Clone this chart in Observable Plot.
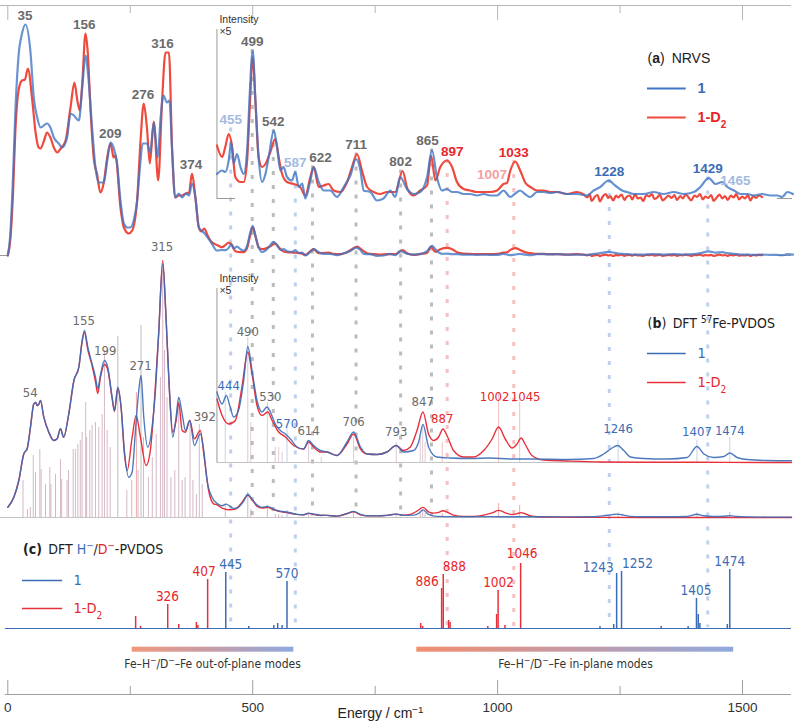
<!DOCTYPE html>
<html>
<head>
<meta charset="utf-8">
<script src="https://cdn.jsdelivr.net/npm/d3@7"></script>
<script src="https://cdn.jsdelivr.net/npm/@observablehq/plot@0.6"></script>
<style>
html,body{margin:0;padding:0;background:#fff;}
#chart{width:798px;height:726px;overflow:hidden;}
</style>
</head>
<body>
<div id="chart"></div>
<script>
// ---------------- DATA (energy cm-1, intensity in arbitrary units) ----------------
// (a) NRVS, complex 1
const nrvs1 = [[0,0],[5,20],[10,70],[16,150],[22,200],[29,222],[36,231],[46,205],[53,158],[60,138],[67,128],[80,132],[87,128],[94,118],[104,112],[111,108],[121,118],[128,142],[135,140],[145,135],[152,168],[158.6,200],[165,175],[172,128],[179,88],[186,73],[196,73],[203,95],[209.6,113],[216,108],[223,92],[230,55],[237,32],[244,28],[250,28],[257,35],[264,55],[271,95],[275,112],[284,112],[291,103],[298,133],[306,98],[312,138],[318,160],[325,153],[330,155],[335.5,105],[342,58],[349,62],[356,58],[363,62],[370,60],[376,72],[383,58],[390,28],[400,23],[414,14],
[427,4.9],[437.5,5.6],[444,5.3],[451,7.6],[456,11.3],[461,7],[468,8.9],[475,6.3],[481.6,4.9],[488.6,9.6],[494,21],[500,29.6],[505.5,19.6],[512,8.3],[519,3.3],[526,4.9],[532.7,8.3],[543,13.6],[549.7,10.3],[556.5,5.6],[563,6.3],[570,4.3],[580,3.6],[587,5.3],[594,2.3],[601,3],[607.5,0],[617.7,3.6],[624.5,6.3],[634.7,3.3],[645,1.6],[658.5,1.6],[672,0.3],[685.8,2.3],[699.4,4.6],[711,7.9],[720,5.6],[726.5,1.6],[740,1.3],[753.8,-0.4],[767,0],[781,1.6],[791,0.3],[801,4.3],[815,1.9],[828.6,0.9],[842,1.3],[856,4.3],[866,9.7],[876,4.3],[886.5,1.6],[896.7,1.9],[907,1.3],[917,1.3],[930.6,0.9],[944,0.9],[958,0.6],[971.6,0.9],[985,0.6],[998.8,0.6],[1012,1.6],[1026,0.3],[1036,1.0],[1046,1.6],[1057,0.8],[1067,0.3],[1080.5,1.3],[1094,1.3],[1108,1.1],[1121.6,1.3],[1142,0.9],[1162,0.9],[1183,0.6],[1196,1.6],[1209.6,2.3],[1226.6,3.6],[1240,2.6],[1254,1.6],[1264,1.3],[1277.6,0.9],[1298,0.9],[1318.8,1.3],[1339,0.9],[1359.6,1.3],[1380,0.9],[1400.7,1.3],[1414,2.3],[1431,4.1],[1445,2.9],[1458.6,3.3],[1469,2.3],[1482.6,1.6],[1496,0.9],[1509.6,0.9],[1523,0.6],[1540,0.9],[1557,0.6],[1571,0.6],[1581,0.3],[1591.6,1.3],[1603,0.9]];
// (a) NRVS, complex 1-D2
const nrvsD2 = [[0,0],[5,15],[10,55],[16,130],[22,165],[29,175],[35,176],[41,187],[50,155],[57,122],[63,108],[67,107],[74,115],[80,123],[87,118],[94,108],[101,103],[108,107],[118,115],[128,148],[136,173],[142,155],[147,145],[152,172],[158.6,222],[163.4,202],[169,145],[176,95],[182,82],[189,63],[196,73],[203,98],[209.6,112],[213,105],[216,98],[220,100],[230,48],[237,28],[247,22],[254,25],[264,55],[271,115],[277.6,152],[284,128],[290,92],[298,134],[307,75],[315,155],[322,203],[329,203],[335.5,105],[342,58],[349,60],[356,60],[363,62],[370,63],[376,82],[383,58],[390,28],[395,24],[401,27],[408,20],[415,14],
[427,10.6],[437.5,8.3],[444,10.3],[451,12.9],[458,10.3],[464.5,4.3],[475,3.3],[481.6,3.3],[488.6,7.6],[494,18.3],[500,28.3],[505.5,19.6],[512,8.3],[519,6.3],[526,6.9],[536,9.3],[546,11.9],[553,8.3],[560,4.9],[570,3.3],[583.6,2.9],[597,2.3],[607.5,0.6],[617.7,4.3],[624.5,6.3],[634.7,2.3],[645,2.6],[655,2.9],[665,1.6],[679,1.3],[692.6,3.3],[702.7,6.3],[713,8.9],[723,5.6],[733.5,2.3],[747,1.3],[760,0.9],[774,1.3],[791,1.3],[806,5.5],[816,1.9],[828.6,0.6],[842,1.6],[856,2.6],[864,8.6],[873,3.6],[883,6.3],[896.7,7.6],[907,6.3],[917,3.3],[930.6,1.9],[944,1.6],[958,1.3],[971.6,1.3],[985,1.3],[998.8,1.6],[1012,2.9],[1019,3.1],[1026,5.6],[1036,7.4],[1046,5.6],[1057,3.1],[1067,2.3],[1080.5,1.6],[1094,1.6],[1108,1.3],[1121.6,1.3],[1142,0.9],[1162,1.3],[1176,0.8],[1183,0.2],[1188,0.9],[1192,-0.5],[1199,0.4],[1204,0.7],[1209,-0.6],[1214,0.3],[1221,0.9],[1226,0.1],[1230,0.5],[1236,-0.4],[1242,0.6],[1246,0.2],[1253,0.8],[1259,-0.3],[1263,0.3],[1270,0.6],[1275,-0.2],[1281,0.9],[1286,0.0],[1292,0.2],[1297,-0.5],[1304,0.7],[1309,0.4],[1315,0.9],[1320,-0.1],[1327,0.3],[1331,0.8],[1337,-0.4],[1344,0.2],[1349,0.6],[1355,0.1],[1361,0.7],[1366,-0.3],[1373,0.5],[1378,0.0],[1384,0.8],[1390,0.2],[1395,-0.4],[1402,0.6],[1407,0.3],[1413,0.9],[1419,-0.2],[1424,0.4],[1430,0.1],[1436,0.7],[1441,-0.5],[1448,0.3],[1453,0.8],[1459,0.0],[1464,0.5],[1470,-0.3],[1476,0.6],[1482,0.2],[1487,0.9],[1493,-0.2],[1499,0.4],[1505,0.0],[1511,0.7],[1516,-0.4],[1522,0.5],[1528,0.1],[1533,0.6],[1540,0.3]];
// (b) DFT 57Fe-PVDOS, complex 1
const dft1 = [[0,10.3],[12.3,20.3],[22.5,37],[32.7,63.7],[39.5,68.7],[46.3,90.3],[53.1,113.7],[57,115],[60,112],[63,113],[66.7,117],[73.5,100.3],[83.7,85.3],[94,77],[100.7,78.7],[107.5,88.7],[114,80.3],[124.5,103.7],[135,137],[145,150.3],[152,177],[156.5,187],[163.3,170.3],[172,153.7],[179,140.3],[183.7,128.7],[189,142],[197.3,157],[204,150.3],[213,120.3],[217.8,107],[224.6,130.3],[231.4,110.3],[238,67],[247,40.3],[253.8,45.3],[260.6,87],[267.4,127],[272,142],[277.6,100.3],[285.8,70.3],[294.6,90.3],[301.4,127],[308,183.7],[316.3,253.7],[323,200.3],[330,127],[336.8,80.3],[343.6,100.3],[349,120.3],[355.9,103.7],[362.7,87],[371.5,97],[381,72],[393,83.7],[400,67],[406.9,37],[417,20.3],
[427,14.1],[437.5,11.7],[446,13.4],[454,11.1],[461,9.1],[471,10.4],[481.6,16.4],[490,23.2],[498.6,18.4],[508.8,12.4],[519,10.1],[529,11.1],[536,10.1],[546,7.7],[556.5,6.4],[566.7,5.7],[577,4.7],[590.5,3.1],[604,2.7],[614,4.4],[624.5,3.4],[638,2.4],[651.7,2.1],[672,1.4],[692.6,4.1],[706,6.1],[720,3.1],[733.5,1.7],[753.8,1.6],[774,2.1],[793,3.4],[808,2.1],[828.6,2.4],[838.8,4.1],[847.6,7.6],[859,3.1],[876,1.1],[903.4,0.9],[944,0.8],[985,0.9],[1026,0.7],[1074,0.7],[1142,0.6],[1196,0.8],[1216.6,1.7],[1233.6,2.9],[1245,3.4],[1257.6,2.4],[1271,1.1],[1298,0.8],[1346,0.7],[1387,1.0],[1407,3.2],[1421,1.7],[1441,1.0],[1462,1.2],[1474,1.9],[1489,1.0],[1509.6,0.6],[1550,0.4],[1600,0.35]];
// (b) DFT 57Fe-PVDOS, complex 1-D2
const dftD2 = [[0,10.3],[12.3,20.3],[22.5,37],[32.7,63.7],[39.5,68.7],[46.3,90.3],[53.1,113.7],[57,115],[60,112],[63,113],[66.7,117],[73.5,100.3],[83.7,85.3],[94,77],[100.7,78.7],[107.5,88.7],[114,80.3],[124.5,103.7],[135,137],[145,150.3],[152,177],[156.5,185],[163.3,168],[172,152],[179,136],[183.7,124],[189,140],[197.3,153],[204,148],[213,119],[217.8,106],[224.6,129],[231.4,109],[238,64],[243.7,47],[253.8,80],[262,102],[270.8,80.3],[282.4,52],[291,67],[299.4,117],[308,183.7],[316.3,257],[323,200.3],[330,127],[336.8,85.3],[343.6,97],[349,115],[355.9,87],[362.7,85.3],[371.5,97],[381,78.7],[393,87],[401,60],[410,27],[420.4,13.7],
[427,12.7],[437.5,9.4],[451,7.7],[464.5,8.4],[478,15.1],[490,22.1],[498.6,17.7],[508.8,11.4],[519,9.4],[530.7,10.1],[539.6,8.4],[553,6.1],[566.7,5.1],[583.6,3.4],[604,2.7],[614,4.1],[624.5,3.1],[638,2.1],[651.7,2.1],[672,1.4],[692.6,3.7],[706,5.7],[720,2.7],[733.5,1.7],[753.8,1.6],[774,2.1],[793,3.4],[808,2.4],[821.8,3.1],[835.4,6.4],[847.6,10.1],[859,5.7],[869.4,4.4],[879.6,5.1],[888.4,6.7],[898,5.1],[910,2.4],[930.6,1.1],[951,1.1],[971.6,2.4],[988.7,4.7],[1002,7.1],[1015.6,4.7],[1029.6,2.9],[1039.6,3.7],[1048,4.9],[1057,3.5],[1070,1.4],[1094,0.5],[1142,0.3],[1210,0.1],[1300,0.05],[1414,0.05],[1550,0],[1600,0]];
// (b) calculated 57Fe stick intensities [energy, height, kind]
const sticksB = [[31,37,"mix"],[40,8,"mix"],[46,10,"mix"],[52,62,"mix"],[56.5,45,"mix"],[65.4,68,"mix"],[68,48,"mix"],[77,33,"mix"],[85.8,50,"mix"],[88,33,"mix"],[97.4,43,"mix"],[107.5,58,"mix"],[110,38,"mix"],[121,37,"mix"],[124,47,"mix"],[133.4,68,"mix"],[138,68,"mix"],[143,73,"mix"],[148,77,"mix"],[151.7,85,"mix"],[159,115,"mix"],[161,80,"mix"],[167.4,87,"mix"],[172,92,"mix"],[179,95,"mix"],[185.8,90,"mix"],[192.6,103,"mix"],[197.3,167,"mix"],[202.8,87,"mix"],[209,70,"mix"],[224.6,181,"gray"],[243,27,"mix"],[253,37,"mix"],[262.6,125,"red"],[266,47,"mix"],[272,192,"gray"],[277,80,"mix"],[287,40,"mix"],[295,60,"mix"],[303,83,"mix"],[311.6,140,"mix"],[316.3,247,"mix"],[320,167,"mix"],[325,120,"mix"],[333,40,"mix"],[341,47,"mix"],[349,113,"mix"],[356,37,"mix"],[362,40,"mix"],[372,97,"mix"],[378,37,"mix"],[385,23,"mix"],[391,93,"mix"],[397,33,"mix"],
[444,14,"blue"],[490,25,"gray"],[496,8,"mix"],[530,12,"mix"],[546,3,"mix"],[553,3,"mix"],[560,2,"mix"],[570,7,"blue"],[614,4,"mix"],[640,1,"mix"],[706,5,"mix"],[793,4,"mix"],[842,5,"mix"],[847,7,"mix"],[852,4,"mix"],[887,4,"red"],[1002,14,"red"],[1045,12,"red"],[1246,4.4,"blue"],[1407,4.4,"blue"],[1474,5,"blue"]];
// (c) DFT H-/D- PVDOS sticks [energy, height]
const hpvdos1 = [[445,56],[492,2],[543,3],[551,5],[560,3],[570,47],[1209,2],[1237,4],[1243,55],[1253,57],[1334,2],[1389,2],[1406,30],[1409.6,14],[1413,5],[1469,4],[1474,59]];
const hpvdosD2 = [[261,12],[271,2],[326.5,24],[349,4],[385,6],[388,3],[408,49],[843,5],[847,2],[885.7,40],[889,54],[900,8],[903,6],[980,2],[998,14],[1001,38],[1015,3],[1047,65]];
// peak labels [energy, colour key]
const labelsA = [[35,"gray"],[156,"gray"],[209,"gray"],[276,"gray"],[316,"gray"],[374,"gray"],[455,"lblue"],[499,"gray"],[542,"gray"],[587,"lblue"],[622,"gray"],[711,"gray"],[802,"gray"],[865,"gray"],[897,"red"],[1007,"lred"],[1033,"red"],[1228,"blue"],[1429,"blue"],[1465,"lblue"]];
const labelsB = [[54,"gray"],[155,"gray"],[199,"gray"],[271,"gray"],[315,"gray"],[392,"gray"],[444,"blue"],[490,"gray"],[530,"gray"],[570,"blue"],[614,"gray"],[706,"gray"],[793,"gray"],[847,"gray"],[887,"red"],[1002,"red"],[1045,"red"],[1246,"blue"],[1407,"blue"],[1474,"blue"]];
const labelsC = [[326,"red"],[407,"red"],[445,"blue"],[570,"blue"],[886,"red"],[888,"red"],[1002,"red"],[1046,"red"],[1243,"blue"],[1252,"blue"],[1405,"blue"],[1474,"blue"]];
// guide lines [energy, colour key]
const guides = [[455,"blue"],[499,"gray"],[542,"gray"],[587,"blue"],[622,"gray"],[711,"gray"],[802,"gray"],[865,"gray"],[897,"red"],[1033,"red"],[1228,"blue"],[1429,"blue"]];
// mode ranges
const modeBands = [{x1:254,x2:584,name:"out"},{x1:835,x2:1482,name:"in"}];
// axis ticks
const ticks = [0,250,500,750,1000,1250,1500];
const tickLabels = [0,500,1000,1500];

// ---------------- LAYOUT ----------------
const L = {top:689, aBase:439, aIns:496, bBase:177, bIns:232, cBase:66, insetE:427, k:5};
const PX = 783.7/1600;
const COL = {gray:"#6b6b6b", blue:"#3b6cb5", lblue:"#a4badf", red:"#e6262b", lred:"#f4a3a3"};
const GUIDE = {gray:"#bcbcbc", blue:"#c0d0ec", red:"#f7c0c0"};
const STICK = {mix:"#c7a0b3", gray:"#a8a8a8", red:"#ee9090", blue:"#93aedb"};
const NRVS_B = "#3f75c4", NRVS_R = "#ef4a3d", DFT_B = "#3c6cb6", DFT_R = "#e8303a";
const narrow = "'Liberation Sans Narrow','Arial Narrow','DejaVu Sans Condensed','Liberation Sans',sans-serif";
const regular = "'Liberation Sans',Arial,sans-serif";

const nudgeA = {455:[0,5],622:[8,0],865:[-4,0],897:[5,0],1007:[-9,0],1465:[10,-7.5]};
const nudgeB = {54:[-4,0],315:[0,4],392:[5,4],444:[3.5,0],490:[0,5],530:[3,0],793:[0,4],1002:[-4,20],1045:[6,31],1246:[0,7],1407:[0,5],1474:[0,12]};
const nudgeC = {407:[-3,0],445:[5,0],886:[-3,-1,"end"],888:[0,0,"start"],1046:[2,2],1243:[-3,-2,"end"],1252:[1,0,"start"]};

function peakOf(arrs, E, w){ let m=-Infinity; for (const a of arrs) for (const d of a) if (Math.abs(d[0]-E)<=w && d[1]>m) m=d[1]; return m; }
const rows = (arr, base, k, lo=-Infinity) => arr.filter(d=>d[0]>=lo).map(d=>({e:d[0], y:base + k*d[1]}));

const labA = labelsA.map(([E,c])=>{
  const ins = E>=L.insetE, I = peakOf([nrvs1,nrvsD2],E,8), n = nudgeA[E]||[0,0];
  return {x:E + n[0]/PX, y:(ins ? L.aIns + L.k*I : L.aBase + I) + 9 + n[1], t:String(E), c:COL[c], E};
});
const labB = labelsB.map(([E,c])=>{
  const ins = E>=L.insetE, I = peakOf([dft1,dftD2],E,8), n = nudgeB[E]||[0,0];
  return {x:E + n[0]/PX, y:(ins ? L.bIns + L.k*I : L.bBase + I) + 10 + n[1], t:String(E), c:COL[c]};
});
const labC = labelsC.map(([E,c])=>{
  const h = peakOf([c==="red"?hpvdosD2:hpvdos1],E,1.5), n = nudgeC[E]||[0,0,"middle"];
  return {x:E + n[0]/PX, y:L.cBase + h + 7.5 + n[1], t:String(E), c:COL[c], a:n[2]||"middle"};
});
const guideRows = guides.map(([E,c])=>{
  const lab = labA.find(d=>d.E===E);
  return {x:E, y1:lab.y-8, y2:c==="gray" ? L.bBase+1 : L.cBase+1, c:GUIDE[c]};
});
const sticksRows1 = sticksB.map(([e,h,k])=>({e, y1:L.bBase, y2:L.bBase+h, c:STICK[k]}));
const sticksRows5 = sticksB.filter(d=>d[0]>=L.insetE).map(([e,h,k])=>({e, y1:L.bIns, y2:L.bIns+L.k*h, c:STICK[k]}));

const marks = [
  // frame: top line and ticks, bottom axis
  Plot.ruleY([{y:L.top}], {y:"y", x1:-15, x2:1600, stroke:"#b5b5b5"}),
  Plot.ruleX(ticks, {x:d=>d, y1:L.top, y2:d=>L.top-(d%500===0?15:8), stroke:"#b5b5b5"}),
  Plot.ruleY([{y:0}], {y:"y", x1:-5, x2:1600, stroke:"#a0a0a0"}),
  Plot.ruleX(ticks, {x:d=>d, y1:0, y2:d=>(d%500===0?14:8), stroke:"#a0a0a0"}),
  Plot.text(tickLabels, {x:d=>d, y:-13, text:d=>String(d), fill:"#333", fontSize:13.5, fontFamily:regular}),
  Plot.text(["Energy / cm-1"], {x:761, y:-19, text:d=>d, fill:"#222", fontSize:14, fontFamily:regular}),
  // guide lines
  Plot.ruleX(guideRows, {x:"x", y1:"y1", y2:"y2", stroke:"c", strokeWidth:3, strokeDasharray:"4,10"}),
  // mode bands
  Plot.rect(modeBands.filter(d=>d.name==="out"), {x1:"x1", x2:"x2", y1:42.3, y2:47.3, fill:"#010101"}),
  Plot.rect(modeBands.filter(d=>d.name==="in"), {x1:"x1", x2:"x2", y1:42.3, y2:47.3, fill:"#020202"}),
  Plot.text(["Fe-H/D-Fe out-of-plane modes"], {x:418, y:30, text:d=>d, fill:"#333", fontSize:12, fontFamily:narrow}),
  Plot.text(["Fe-H/D-Fe in-plane modes"], {x:1159, y:30, text:d=>d, fill:"#333", fontSize:12, fontFamily:narrow}),

  // ---- panel (a) ----
  Plot.ruleY([{y:L.aBase}], {y:"y", x1:-15, x2:0, stroke:"#9a9a9a"}),
  Plot.ruleY([{y:L.aBase}], {y:"y", x1:1572, x2:1600, stroke:"#9a9a9a"}),
  Plot.ruleY([{y:L.aIns}], {y:"y", x1:L.insetE, x2:465, stroke:"#9a9a9a"}),
  Plot.ruleY([{y:L.aIns}], {y:"y", x1:1571, x2:1602, stroke:"#9a9a9a"}),
  Plot.ruleX([{x:L.insetE}], {x:"x", y1:L.aIns, y2:665, stroke:"#9a9a9a"}),
  Plot.text(["Intensity"], {x:432, y:675, text:d=>d, textAnchor:"start", fill:"#333", fontSize:10.5, fontFamily:regular}),
  Plot.text(["×5"], {x:432, y:663, text:d=>d, textAnchor:"start", fill:"#333", fontSize:10.5, fontFamily:regular}),
  Plot.line(rows(nrvsD2, L.aBase, 1), {x:"e", y:"y", stroke:NRVS_R, strokeWidth:2.2, curve:"monotone-x"}),
  Plot.line(rows(nrvs1, L.aBase, 1), {x:"e", y:"y", stroke:NRVS_B, strokeWidth:2.2, strokeOpacity:0.78, curve:"monotone-x"}),
  Plot.line(rows(nrvsD2, L.aIns, L.k, L.insetE), {x:"e", y:"y", stroke:NRVS_R, strokeWidth:2.2, curve:"monotone-x"}),
  Plot.line(rows(nrvs1, L.aIns, L.k, L.insetE), {x:"e", y:"y", stroke:NRVS_B, strokeWidth:2.2, strokeOpacity:0.8, curve:"monotone-x"}),
  Plot.text(labA, {x:"x", y:"y", text:"t", fill:"c", fontSize:13.5, fontWeight:"bold", fontFamily:regular}),

  // ---- panel (b) ----
  Plot.ruleY([{y:L.bBase}], {y:"y", x1:-15, x2:1600, stroke:"#c4c4c4"}),
  Plot.ruleY([{y:L.bIns}], {y:"y", x1:L.insetE, x2:1600, stroke:"#c4c4c4"}),
  Plot.ruleX([{x:L.insetE}], {x:"x", y1:L.bIns, y2:406, stroke:"#9a9a9a"}),
  Plot.text(["Intensity"], {x:432, y:416, text:d=>d, textAnchor:"start", fill:"#333", fontSize:10.5, fontFamily:regular}),
  Plot.text(["×5"], {x:432, y:404, text:d=>d, textAnchor:"start", fill:"#333", fontSize:10.5, fontFamily:regular}),
  Plot.ruleX(sticksRows1, {x:"e", y1:"y1", y2:"y2", stroke:"c", strokeWidth:1, strokeOpacity:0.75}),
  Plot.ruleX(sticksRows5, {x:"e", y1:"y1", y2:"y2", stroke:"c", strokeWidth:1, strokeOpacity:0.55}),
  Plot.line(rows(dftD2, L.bBase, 1), {x:"e", y:"y", stroke:DFT_R, strokeWidth:1.4, curve:"monotone-x"}),
  Plot.line(rows(dft1, L.bBase, 1), {x:"e", y:"y", stroke:DFT_B, strokeWidth:1.4, strokeOpacity:0.9, curve:"monotone-x"}),
  Plot.line(rows(dftD2, L.bIns, L.k, L.insetE), {x:"e", y:"y", stroke:DFT_R, strokeWidth:1.4, curve:"monotone-x"}),
  Plot.line(rows(dft1, L.bIns, L.k, L.insetE), {x:"e", y:"y", stroke:DFT_B, strokeWidth:1.4, strokeOpacity:0.9, curve:"monotone-x"}),
  Plot.text(labB, {x:"x", y:"y", text:"t", fill:"c", fontSize:13, fontFamily:narrow}),

  // ---- panel (c) ----
  Plot.ruleY([{y:L.cBase}], {y:"y", x1:-5, x2:1600, stroke:DFT_B, strokeWidth:1.2}),
  Plot.ruleX(hpvdosD2.map(d=>({e:d[0], h:d[1]})), {x:"e", y1:L.cBase, y2:d=>L.cBase+d.h, stroke:DFT_R, strokeWidth:1.5}),
  Plot.ruleX(hpvdos1.map(d=>({e:d[0], h:d[1]})), {x:"e", y1:L.cBase, y2:d=>L.cBase+d.h, stroke:DFT_B, strokeWidth:1.5}),
  Plot.text(labC.filter(d=>d.a==="middle"), {x:"x", y:"y", text:"t", fill:"c", fontSize:13.5, fontFamily:narrow}),
  Plot.text(labC.filter(d=>d.a==="start"), {x:"x", y:"y", text:"t", fill:"c", fontSize:13.5, textAnchor:"start", fontFamily:narrow}),
  Plot.text(labC.filter(d=>d.a==="end"), {x:"x", y:"y", text:"t", fill:"c", fontSize:13.5, textAnchor:"end", fontFamily:narrow}),

  // ---- legends ----
  Plot.text(["(a) NRVS"], {x:1306, y:636, text:d=>d, textAnchor:"start", fill:"#222", fontSize:14, fontFamily:regular}),
  Plot.ruleY([{y:606}], {y:"y", x1:1306, x2:1385, stroke:NRVS_B, strokeWidth:2.2}),
  Plot.ruleY([{y:577}], {y:"y", x1:1306, x2:1385, stroke:NRVS_R, strokeWidth:2.2}),
  Plot.text(["1"], {x:1408, y:606, text:d=>d, textAnchor:"start", fill:COL.blue, fontSize:14.5, fontWeight:"bold", fontFamily:regular}),
  Plot.text(["1-D2"], {x:1408, y:577, text:d=>d, textAnchor:"start", fill:COL.red, fontSize:14.5, fontWeight:"bold", fontFamily:regular}),

  Plot.text(["(b) DFT 57Fe-PVDOS"], {x:1306, y:371, text:d=>d, textAnchor:"start", fill:"#222", fontSize:14, fontFamily:narrow}),
  Plot.ruleY([{y:341}], {y:"y", x1:1306, x2:1385, stroke:DFT_B, strokeWidth:1.4}),
  Plot.ruleY([{y:312}], {y:"y", x1:1306, x2:1385, stroke:DFT_R, strokeWidth:1.4}),
  Plot.text(["1"], {x:1408, y:341, text:d=>d, textAnchor:"start", fill:COL.blue, fontSize:14.5, fontFamily:narrow}),
  Plot.text(["1-D2"], {x:1408, y:312, text:d=>d, textAnchor:"start", fill:COL.red, fontSize:14.5, fontFamily:narrow}),

  Plot.text(["(c) DFT H/D-PVDOS"], {x:31, y:145, text:d=>d, textAnchor:"start", fill:"#222", fontSize:14, fontFamily:narrow}),
  Plot.ruleY([{y:114}], {y:"y", x1:30, x2:112, stroke:DFT_B, strokeWidth:1.4}),
  Plot.ruleY([{y:86}], {y:"y", x1:30, x2:112, stroke:DFT_R, strokeWidth:1.4}),
  Plot.text(["1"], {x:134, y:114, text:d=>d, textAnchor:"start", fill:COL.blue, fontSize:14.5, fontFamily:narrow}),
  Plot.text(["1-D2"], {x:134, y:86, text:d=>d, textAnchor:"start", fill:COL.red, fontSize:14.5, fontFamily:narrow})
];

const svg = Plot.plot({
  width:798, height:726,
  marginLeft:7.3, marginRight:7, marginTop:5, marginBottom:32,
  x:{domain:[0,1600], axis:null},
  y:{domain:[0,689], axis:null},
  style:{fontFamily:regular, fontSize:"13px", background:"#fff", overflow:"visible"},
  marks
});

// rich text (bold letters, super/subscripts, coloured H-/D-)
const RICH = {
  "(a) NRVS": [["("],["a",{b:1}],[")\u2002NRVS"]],
  "1-D2": [["1-D"],["2",{sub:1}]],
  "(b) DFT 57Fe-PVDOS": [["("],["b",{b:1}],[")\u2002DFT "],["57",{sup:1}],["Fe-PVDOS"]],
  "(c) DFT H/D-PVDOS": [["(c)",{b:1}],["\u2002DFT "],["H",{fill:COL.blue}],["\u2212",{sup:1,fill:COL.blue}],["/"],["D",{fill:COL.red}],["\u2212",{sup:1,fill:COL.red}],["-PVDOS"]],
  "Fe-H/D-Fe out-of-plane modes": [["Fe\u2013H"],["\u2212",{sup:1}],["/D"],["\u2212",{sup:1}],["\u2013Fe out-of-plane modes"]],
  "Fe-H/D-Fe in-plane modes": [["Fe\u2013H"],["\u2212",{sup:1}],["/D"],["\u2212",{sup:1}],["\u2013Fe in-plane modes"]],
  "Energy / cm-1": [["Energy / cm"],["\u22121",{sup:1}]]
};
const NS = "http://www.w3.org/2000/svg";
d3.select(svg).selectAll("text").each(function(){
  const parts = RICH[this.textContent];
  if (!parts) return;
  while (this.firstChild) this.removeChild(this.firstChild);
  for (const [s,o={}] of parts){
    const ts = document.createElementNS(NS,"tspan");
    ts.textContent = s;
    if (o.b) ts.setAttribute("font-weight","bold");
    if (o.fill) ts.setAttribute("fill",o.fill);
    if (o.sup){ ts.setAttribute("baseline-shift","super"); ts.setAttribute("font-size","70%"); }
    if (o.sub){ ts.setAttribute("baseline-shift","sub"); ts.setAttribute("font-size","70%"); }
    this.appendChild(ts);
  }
});
// gradients for mode bands
const defs = d3.select(svg).insert("defs",":first-child");
defs.html('<linearGradient id="gOut" x1="0" x2="1" y1="0" y2="0"><stop offset="0" stop-color="#f2987a"/><stop offset="0.5" stop-color="#c59ca9"/><stop offset="1" stop-color="#8eaadf"/></linearGradient>' +
          '<linearGradient id="gIn" x1="0" x2="1" y1="0" y2="0"><stop offset="0" stop-color="#f28e6e"/><stop offset="0.5" stop-color="#c49aa6"/><stop offset="1" stop-color="#8fa9de"/></linearGradient>');
d3.select(svg).selectAll('[fill="#010101"]').attr("fill","url(#gOut)");
d3.select(svg).selectAll('[fill="#020202"]').attr("fill","url(#gIn)");

document.getElementById("chart").appendChild(svg);
</script>
</body>
</html>
